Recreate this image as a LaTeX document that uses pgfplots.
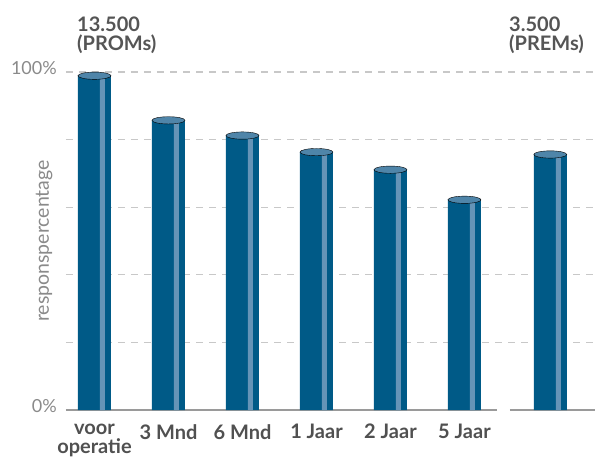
\documentclass[border=0pt]{standalone}
\usepackage{pgfplots}
\pgfplotsset{compat=1.18}
\usepackage{fontspec}
\setmainfont{Lato}
\definecolor{barbody}{HTML}{005A87}
\definecolor{bartop}{HTML}{4F85A9}
\definecolor{barstripe}{HTML}{6594B7}
\definecolor{gridc}{HTML}{C8C8C8}
\definecolor{basec}{HTML}{9A9A9A}
\definecolor{titlec}{HTML}{555555}
\definecolor{catc}{HTML}{505050}
\definecolor{tickc}{HTML}{8A8A8A}
\begin{document}
\begin{tikzpicture}
\useasboundingbox (-66pt,-49pt) rectangle (529pt,410pt);
\begin{axis}[
  at={(0,0)}, anchor=south west,
  scale only axis,
  width=529pt, height=338pt,
  xmin=-0.385, xmax=6.764,
  ymin=0, ymax=100,
  axis line style={draw=none},
  tick style={draw=none},
  major tick length=0pt,
  clip=false,
  ytick={20,40,60,80,100},
  yticklabels={,,,,100\%},
  extra y ticks={0},
  extra y tick labels={0\%},
  extra y tick style={grid=none},
  ymajorgrids,
  major grid style={gridc, line width=1.2pt, dash pattern=on 7pt off 6pt},
  yticklabel style={inner sep=0pt, anchor=east, xshift=-9pt, yshift=4pt,
    font=\fontsize{18}{18}\selectfont, text=tickc},
  xtick={0,1,2,3,4,5},
  xticklabels={{voor\\operatie},3 Mnd,6 Mnd,1 Jaar,2 Jaar,5 Jaar},
  xticklabel style={inner sep=0pt, anchor=north, yshift=-14pt, align=center,
    font=\fontsize{20}{19}\selectfont\bfseries, text=catc},
  ylabel={responspercentage},
  ylabel style={at={(axis description cs:-0.0416,0.5)}, anchor=center, rotate=0,
    font=\fontsize{19.5}{19.5}\selectfont, text=tickc},
  /pgf/number format/assume math mode=true,
]
% baseline in two pieces
\addplot[basec, line width=1.3pt, no marks] coordinates {(-0.385,0) (5.439,0)};
\addplot[basec, line width=1.3pt, no marks] coordinates {(5.615,0) (6.764,0)};
% bar bodies
\addplot[ybar, bar width=33pt, bar shift=0pt, fill=barbody, draw=none]
  coordinates {(0,98.9) (1,85.7) (2,81.2) (3,76.3) (4,71.1) (5,62.2) (6.16,75.6)};
% stripes
\addplot[ybar, bar width=5pt, bar shift=8pt, fill=barstripe, draw=none]
  coordinates {(0,98.9) (1,85.7) (2,81.2) (3,76.3) (4,71.1) (5,62.2) (6.16,75.6)};
% elliptical tops
\addplot[only marks, mark=*, mark size=16.5pt,
  mark options={fill=bartop, draw=none, xscale=1, yscale=0.22}]
  coordinates {(0,98.9) (1,85.7) (2,81.2) (3,76.3) (4,71.1) (5,62.2) (6.16,75.6)};
\end{axis}
\begin{scope}[every node/.style={inner sep=0pt, text=titlec,
    font=\fontsize{20}{20}\selectfont\bfseries}]
\node[anchor=base west] at (11pt,378.3pt) {13.500};
\node[anchor=base west] at (11pt,359.3pt) {(PROMs)};
\node[anchor=base west] at (443pt,378.3pt) {3.500};
\node[anchor=base west] at (443pt,359.3pt) {(PREMs)};
\end{scope}
\end{tikzpicture}
\end{document}
